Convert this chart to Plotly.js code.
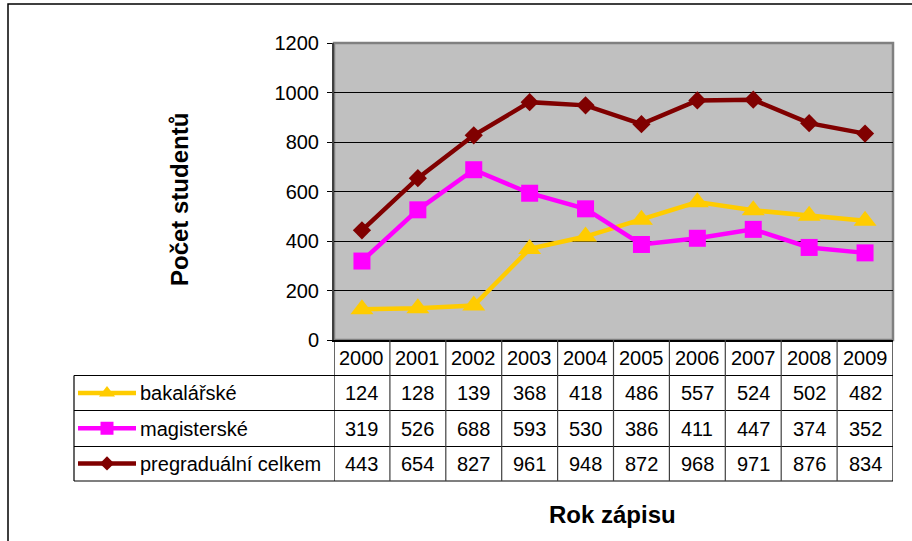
<!DOCTYPE html>
<html>
<head>
<meta charset="utf-8">
<script src="https://cdn.plot.ly/plotly-3.0.1.min.js"></script>
<style>html,body{margin:0;padding:0;background:#fff;}#chart{width:912px;height:541px;}</style>
</head>
<body>
<div id="chart"></div>
<script>
const years = ['2000','2001','2002','2003','2004','2005','2006','2007','2008','2009'];
const bakalarske = [124,128,139,368,418,486,557,524,502,482];
const magisterske = [319,526,688,593,530,386,411,447,374,352];
const pregradualni = [443,654,827,961,948,872,968,971,876,834];
const seriesNames = ['bakalářské','magisterské','pregraduální celkem'];
const seriesColors = ['#FFCC00','#FF00FF','#800000'];
const seriesSymbols = ['triangle-up','square','diamond'];
const yTickVals = [0,200,400,600,800,1000,1200];
const yTitle = 'Počet studentů';
const xTitle = 'Rok zápisu';

const W = 912, H = 541;
const px = x => x / W;
const py = y => 1 - y / H;
const FONT = 'Liberation Sans, Arial, sans-serif';

const seriesData = [bakalarske, magisterske, pregradualni];
const mainSize = [20, 17, 14];
const legSize = [14, 13, 11];

const traces = [];
seriesData.forEach((vals, i) => {
  traces.push({
    type: 'scatter', mode: 'lines+markers', x: years, y: vals, name: seriesNames[i],
    xaxis: 'x', yaxis: 'y', showlegend: false, cliponaxis: false,
    line: {color: seriesColors[i], width: 4.5},
    marker: {symbol: seriesSymbols[i], size: mainSize[i], color: seriesColors[i], line:{width:0}},
    hoverinfo: 'x+y+name'
  });
});
// legend keys inside the data table
seriesData.forEach((vals, i) => {
  traces.push({
    type: 'scatter', mode: 'lines', x: [0, 1], y: [i, i],
    xaxis: 'x2', yaxis: 'y2', showlegend: false, cliponaxis: false, hoverinfo: 'skip',
    line: {color: seriesColors[i], width: 4.5}
  });
  traces.push({
    type: 'scatter', mode: 'markers', x: [0.5], y: [i],
    xaxis: 'x2', yaxis: 'y2', showlegend: false, cliponaxis: false, hoverinfo: 'skip',
    marker: {symbol: seriesSymbols[i], size: legSize[i], color: seriesColors[i], line:{width:0}}
  });
});

const shapes = [];
// outer chart border
shapes.push({type:'rect', xref:'paper', yref:'paper', x0:px(8), y0:py(4), x1:px(916), y1:py(546), line:{color:'#000', width:1.5}, layer:'below'});
// plot area (gray fill, gray border)
shapes.push({type:'rect', xref:'paper', yref:'paper', x0:px(334), y0:py(340), x1:px(893), y1:py(43), fillcolor:'#C0C0C0', line:{color:'#808080', width:2.5}, layer:'below'});
// table horizontal lines
const rowLines = [375.5, 410.5, 446.5, 481];
rowLines.forEach(y => shapes.push({type:'line', xref:'paper', yref:'paper', x0:px(74), x1:px(893), y0:py(y), y1:py(y), line:{color:'#000', width:1.2}}));
// table left border
shapes.push({type:'line', xref:'paper', yref:'paper', x0:px(74), x1:px(74), y0:py(375.5), y1:py(481), line:{color:'#000', width:1.2}});
// table column lines
for (let i = 0; i <= years.length; i++) {
  shapes.push({type:'line', xref:'x', yref:'paper', x0:i-0.5, x1:i-0.5, y0:py(340), y1:py(481), line:{color: (i===0||i===years.length)?'#000':'#404040', width:1.2}});
}

const annotations = [];
const rowY = [393, 428.5, 464];
const TS = 20;
years.forEach((yr, j) => {
  annotations.push({xref:'x', yref:'paper', x:j, y:py(358), text:yr, showarrow:false, xanchor:'center', yanchor:'middle', font:{family:FONT, size:TS, color:'#000'}});
  seriesData.forEach((vals, i) => {
    annotations.push({xref:'x', yref:'paper', x:j, y:py(rowY[i]), text:String(vals[j]), showarrow:false, xanchor:'center', yanchor:'middle', font:{family:FONT, size:TS, color:'#000'}});
  });
});
seriesNames.forEach((nm, i) => {
  annotations.push({xref:'paper', yref:'paper', x:px(138), y:py(rowY[i]), text:nm, showarrow:false, xanchor:'left', yanchor:'middle', font:{family:FONT, size:TS, color:'#000'}});
});
annotations.push({xref:'paper', yref:'paper', x:px(179), y:py(200), text:'<b>'+yTitle+'</b>', textangle:-90, showarrow:false, xanchor:'center', yanchor:'middle', font:{family:FONT, size:24, color:'#000'}});
annotations.push({xref:'paper', yref:'paper', x:px(612), y:py(514), text:'<b>'+xTitle+'</b>', showarrow:false, xanchor:'center', yanchor:'middle', font:{family:FONT, size:24, color:'#000'}});

const layout = {
  width: W, height: H,
  margin: {l:0, r:0, t:0, b:0},
  paper_bgcolor: '#ffffff',
  plot_bgcolor: 'rgba(0,0,0,0)',
  showlegend: false,
  xaxis: {domain:[px(334), px(893)], type:'category', range:[-0.5, 9.5], showticklabels:false, ticks:'', showgrid:false, zeroline:false, showline:true, linecolor:'#000', linewidth:1.5, fixedrange:true},
  yaxis: {domain:[py(340), py(43)], range:[0, 1200], tickvals:yTickVals, ticks:'outside', ticklen:5, tickcolor:'#000', ticklabelstandoff:4,
          tickfont:{family:FONT, size:TS, color:'#000'}, showgrid:true, gridcolor:'#000', gridwidth:1, zeroline:false, showline:true, linecolor:'#404040', linewidth:2, fixedrange:true},
  xaxis2: {domain:[px(78), px(136)], range:[0, 1], visible:false, fixedrange:true, anchor:'y2'},
  yaxis2: {domain:[py(481), py(375.5)], range:[2.5, -0.5], visible:false, fixedrange:true, anchor:'x2'},
  shapes: shapes,
  annotations: annotations
};

Plotly.newPlot('chart', traces, layout, {displayModeBar:false, staticPlot:true});
</script>
</body>
</html>
